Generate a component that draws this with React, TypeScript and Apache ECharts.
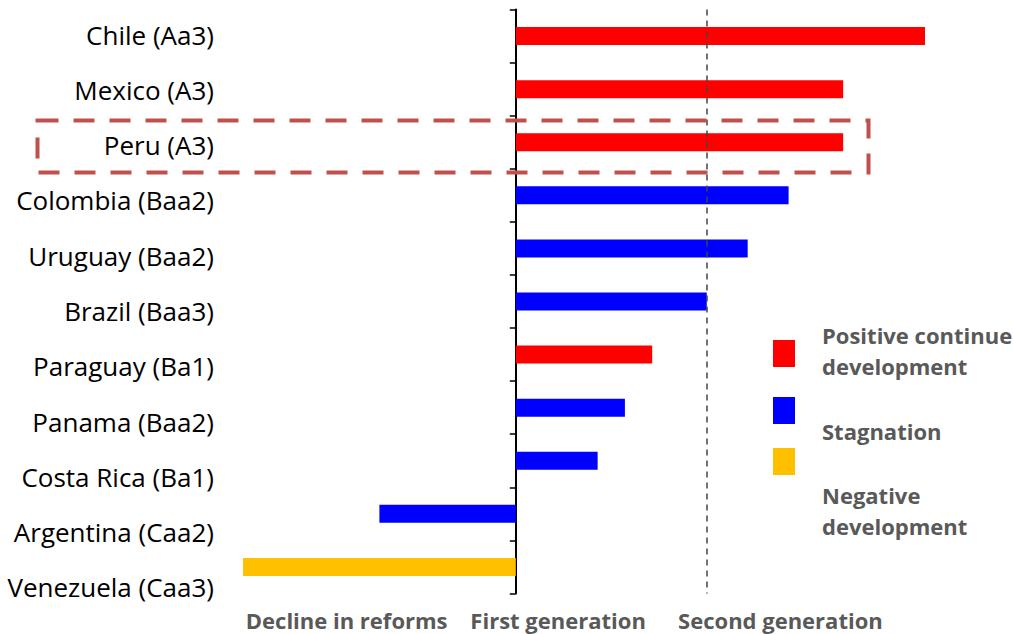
import React, { useEffect, useRef } from "react";
import * as echarts from "echarts";

const countries = [
  "Chile (Aa3)",
  "Mexico (A3)",
  "Peru (A3)",
  "Colombia (Baa2)",
  "Uruguay (Baa2)",
  "Brazil (Baa3)",
  "Paraguay (Ba1)",
  "Panama (Baa2)",
  "Costa Rica (Ba1)",
  "Argentina (Caa2)",
  "Venezuela (Caa3)",
];
const scores = [15, 12, 12, 10, 8.5, 7, 5, 4, 3, -5, -10];
const statuses = ["pos", "pos", "pos", "stag", "stag", "stag", "pos", "stag", "stag", "stag", "neg"];
const statusColors: Record<string, string> = { pos: "#FF0000", stag: "#0000FF", neg: "#FFC000" };
const legendNames = ["Positive continue\ndevelopment", "Stagnation", "Negative\ndevelopment"];
const legendKeys = ["pos", "stag", "neg"];
const stageLabelValues = [-6.2, 1.55, 9.7];
const stageLabels = ["Decline in reforms", "First generation", "Second generation"];
const secondGenThreshold = 7;

const FONT = "Open Sans";
const GRAY = "#595959";

export default function App() {
  const ref = useRef<HTMLDivElement>(null);
  useEffect(() => {
    if (!ref.current) return;
    const chart = echarts.init(ref.current, null, { renderer: "svg" });
    const legendSquareY = [340, 397, 448];
    const legendTextY = [319, 415, 479];
    const graphic: any[] = [];
    legendKeys.forEach((k, i) => {
      graphic.push({
        type: "rect",
        left: 773,
        top: legendSquareY[i],
        shape: { width: 22, height: 27 },
        style: { fill: statusColors[k] },
      });
      graphic.push({
        type: "text",
        left: 822,
        top: legendTextY[i],
        style: {
          text: legendNames[i],
          fill: GRAY,
          font: `bold 22px "${FONT}"`,
          lineHeight: 31,
        },
      });
    });
    graphic.push({
      type: "rect",
      left: 35,
      top: 118,
      shape: { width: 831, height: 52 },
      style: { fill: "none", stroke: "#C0504D", lineWidth: 4, lineDash: [21, 15] },
      z: 100,
    });

    chart.setOption({
      animation: false,
      grid: [
        { left: 243, right: 88, top: 9.5, bottom: 40.5 },
        { left: 215, width: 1, top: 7, bottom: 19 },
      ],
      xAxis: [
        {
          gridIndex: 0,
          type: "value",
          min: -10,
          max: 15,
          splitLine: { show: false },
          axisLine: { show: false },
          axisTick: { show: false },
          axisLabel: {
            customValues: stageLabelValues,
            formatter: (v: number) => {
              const idx = stageLabelValues.findIndex((s) => Math.abs(s - v) < 1e-6);
              return idx >= 0 ? stageLabels[idx] : "";
            },
            color: GRAY,
            fontWeight: "bold",
            fontSize: 22,
            fontFamily: FONT,
            margin: 15,
          },
        },
        { gridIndex: 1, type: "value", show: false },
      ],
      yAxis: [
        {
          gridIndex: 0,
          type: "category",
          data: countries,
          inverse: true,
          axisLine: { onZero: true, lineStyle: { color: "#000", width: 2 } },
          axisTick: { show: true, length: 6, lineStyle: { color: "#000", width: 1.5 } },
          axisLabel: { show: false },
        },
        {
          gridIndex: 1,
          type: "category",
          data: countries,
          inverse: true,
          axisLine: { show: false },
          axisTick: { show: false },
          axisLabel: { color: "#000", fontSize: 26, fontFamily: FONT, margin: 1 },
        },
      ],
      series: [
        {
          type: "bar",
          xAxisIndex: 0,
          yAxisIndex: 0,
          barWidth: 18,
          data: scores.map((v, i) => ({ value: v, itemStyle: { color: statusColors[statuses[i]] } })),
          markLine: {
            silent: true,
            symbol: "none",
            label: { show: false },
            lineStyle: { type: [6, 5], color: "#444", width: 1.5 },
            data: [{ xAxis: secondGenThreshold }],
          },
        },
        {
          type: "scatter",
          xAxisIndex: 1,
          yAxisIndex: 1,
          data: [],
        },
      ],
      graphic,
    });
    return () => chart.dispose();
  }, []);
  return <div ref={ref} style={{ width: 1013, height: 634, position: "absolute", left: 0, top: 0 }} />;
}
